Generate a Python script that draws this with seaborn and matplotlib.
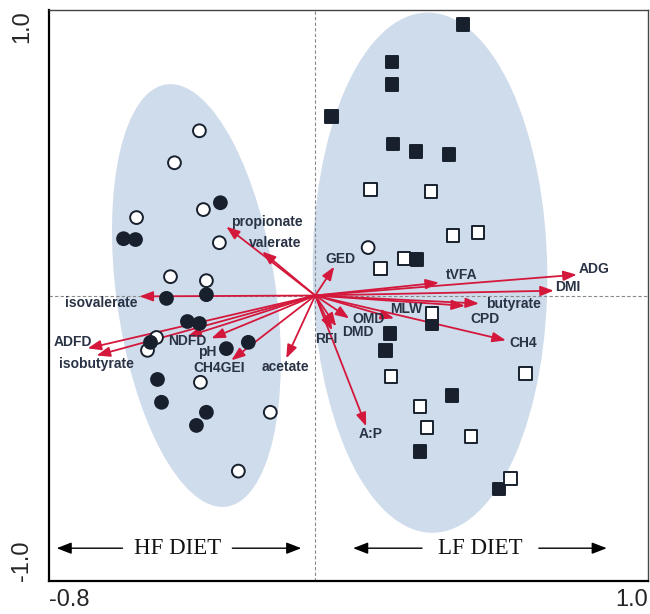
import numpy as np
import pandas as pd
import matplotlib
matplotlib.use("Agg")
import matplotlib.pyplot as plt
from matplotlib.patches import Ellipse
import seaborn as sns

# sample scores (PC1, PC2)
hf_open_x = [-0.348, -0.423, -0.336, -0.537, -0.288, -0.435, -0.327, -0.477, -0.504, -0.345, -0.135, -0.231]
hf_open_y = [0.577, 0.465, 0.301, 0.273, 0.185, 0.066, 0.052, -0.147, -0.192, -0.304, -0.409, -0.615]
hf_fill_x = [-0.285, -0.576, -0.540, -0.447, -0.327, -0.384, -0.348, -0.495, -0.267, -0.201, -0.474, -0.462, -0.327, -0.357]
hf_fill_y = [0.325, 0.199, 0.196, -0.010, 0.003, -0.091, -0.098, -0.164, -0.186, -0.164, -0.294, -0.374, -0.409, -0.455]
lf_open_circ_x = [0.159]
lf_open_circ_y = [0.168]
lf_fill_x = [0.444, 0.231, 0.231, 0.048, 0.234, 0.303, 0.402, 0.306, 0.351, 0.225, 0.210, 0.411, 0.315, 0.552]
lf_fill_y = [0.948, 0.818, 0.738, 0.626, 0.531, 0.504, 0.493, 0.126, -0.098, -0.133, -0.192, -0.350, -0.545, -0.678]
lf_open_x = [0.165, 0.348, 0.414, 0.489, 0.267, 0.195, 0.351, 0.228, 0.633, 0.315, 0.336, 0.468, 0.588]
lf_open_y = [0.371, 0.364, 0.210, 0.220, 0.129, 0.094, -0.063, -0.283, -0.273, -0.388, -0.462, -0.493, -0.640]

# variable loadings
var_names = ["propionate", "valerate", "isovalerate", "ADFD", "isobutyrate", "NDFD", "pH",
             "CH4GEI", "acetate", "GED", "tVFA", "ADG", "DMI", "butyrate", "CPD", "MLW",
             "OMD", "DMD", "RFI", "A:P", "CH4"]
var_x = [-0.267, -0.159, -0.528, -0.684, -0.657, -0.384, -0.312, -0.252, -0.087, 0.057, 0.372,
         0.786, 0.717, 0.492, 0.450, 0.237, 0.102, 0.063, 0.051, 0.153, 0.573]
var_y = [0.241, 0.154, -0.003, -0.185, -0.210, -0.143, -0.150, -0.227, -0.220, 0.101, 0.045,
         0.073, 0.017, -0.028, -0.036, -0.080, -0.080, -0.108, -0.122, -0.458, -0.157]

# label offsets (pixels) and alignment
lab_off = {"propionate": (5, 5, "left"), "valerate": (-13, 9, "left"), "isovalerate": (-2, -7, "right"),
           "ADFD": (5, 6, "right"), "isobutyrate": (0, -9, "center"), "NDFD": (0, -5, "center"),
           "pH": (-4, -14, "center"), "CH4GEI": (-12, -8, "center"), "acetate": (-1, -9, "center"),
           "GED": (6, 8, "center"), "tVFA": (7, 8, "left"), "ADG": (2, 6, "left"), "DMI": (1, 4, "left"),
           "butyrate": (7, 0, "left"), "CPD": (5, -13, "left"), "MLW": (-4, 9, "left"),
           "OMD": (3, -1, "left"), "DMD": (6, -6, "left"), "RFI": (-6, -9, "center"),
           "A:P": (5, -8, "center"), "CH4": (3, -3, "left")}

rows = []
for xs, ys, diet, fill in [(hf_open_x, hf_open_y, "HF", "open"), (hf_fill_x, hf_fill_y, "HF", "filled"),
                           (lf_open_circ_x, lf_open_circ_y, "HF", "open"),
                           (lf_fill_x, lf_fill_y, "LF", "filled"), (lf_open_x, lf_open_y, "LF", "open")]:
    for a, b in zip(xs, ys):
        rows.append({"x": a, "y": b, "diet": diet, "fill": fill})
df = pd.DataFrame(rows)

sns.set_style("white")
plt.rcParams["font.family"] = ["Liberation Sans", "DejaVu Sans"]

navy = "#18202d"
red = "#d4183c"
shade = "#cfdcec"

fig = plt.figure(figsize=(6.5, 6.14), dpi=100)
ax = fig.add_axes([0.0754, 0.0537, 0.9215, 0.93])

ax.add_patch(Ellipse((-0.357, 0.0), 1.49, 0.48, angle=96.7, facecolor=shade, edgecolor="none", zorder=0))
ax.add_patch(Ellipse((0.345, 0.08), 1.822, 0.705, angle=90.5, facecolor=shade, edgecolor="none", zorder=0))

ax.axhline(0, color="#888888", ls=(0, (3, 2)), lw=0.8, zorder=1)
ax.axvline(0, color="#888888", ls=(0, (3, 2)), lw=0.8, zorder=1)

for name, tx, ty in zip(var_names, var_x, var_y):
    ax.annotate("", xy=(tx, ty), xytext=(0, 0),
                arrowprops=dict(arrowstyle="-|>,head_length=0.8,head_width=0.3", color=red, lw=1.3,
                                shrinkA=0, shrinkB=0), zorder=2)
    dx, dy, ha = lab_off[name]
    ax.annotate(name, xy=(tx, ty), xytext=(dx, dy), textcoords="offset pixels", ha=ha, va="center",
                fontsize=10, fontweight="bold", color="#2a3346", zorder=4)

sns.scatterplot(data=df, x="x", y="y", hue="fill", style="diet",
                palette={"filled": navy, "open": "white"}, markers={"HF": "o", "LF": "s"},
                s=85, edgecolor=navy, linewidth=1.4, legend=False, ax=ax, zorder=3)

# diet annotations
for tx, lx, sx, ex, lab in [(-0.777, -0.579, -0.249, -0.042, "HF DIET"), (0.114, 0.321, 0.672, 0.876, "LF DIET")]:
    ax.annotate("", xy=(tx, -0.885), xytext=(lx, -0.885),
                arrowprops=dict(arrowstyle="-|>,head_length=0.9,head_width=0.35", color="black", lw=1.0,
                                shrinkA=0, shrinkB=0))
    ax.annotate("", xy=(ex, -0.885), xytext=(sx, -0.885),
                arrowprops=dict(arrowstyle="-|>,head_length=0.9,head_width=0.35", color="black", lw=1.0,
                                shrinkA=0, shrinkB=0))
    ax.text((lx + sx) / 2, -0.885, lab, ha="center", va="center", fontsize=16.5,
            family=["Liberation Serif", "DejaVu Serif"], color="#111111")

ax.set_xlim(-0.8, 1.0)
ax.set_ylim(-1.0, 1.0)
xt = np.round(np.arange(-0.8, 1.01, 0.2), 1)
ax.set_xticks(xt)
ax.set_xticklabels(["-0.8"] + [""] * (len(xt) - 2) + ["1.0"])
ax.set_yticks([-1.0, -0.5, 0.0, 0.5, 1.0])
ax.set_yticklabels(["-1.0", "", "", "", "1.0"], rotation=90)
ax.tick_params(axis="both", direction="inout", length=7, width=1.2, labelsize=17, color="black")
ax.tick_params(axis="x", pad=2)
ax.tick_params(axis="y", pad=8)
xl = ax.get_xticklabels()
xl[0].set_ha("left")
xl[-1].set_ha("right")
yl = ax.get_yticklabels()
yl[0].set_va("bottom")
yl[-1].set_va("top")
ax.set_xlabel("")
ax.set_ylabel("")

for side in ["left", "bottom"]:
    ax.spines[side].set_linewidth(1.6)
    ax.spines[side].set_color("black")
for side in ["top", "right"]:
    ax.spines[side].set_linewidth(1.0)
    ax.spines[side].set_color("#444444")

fig.savefig("out.png", dpi=100)
